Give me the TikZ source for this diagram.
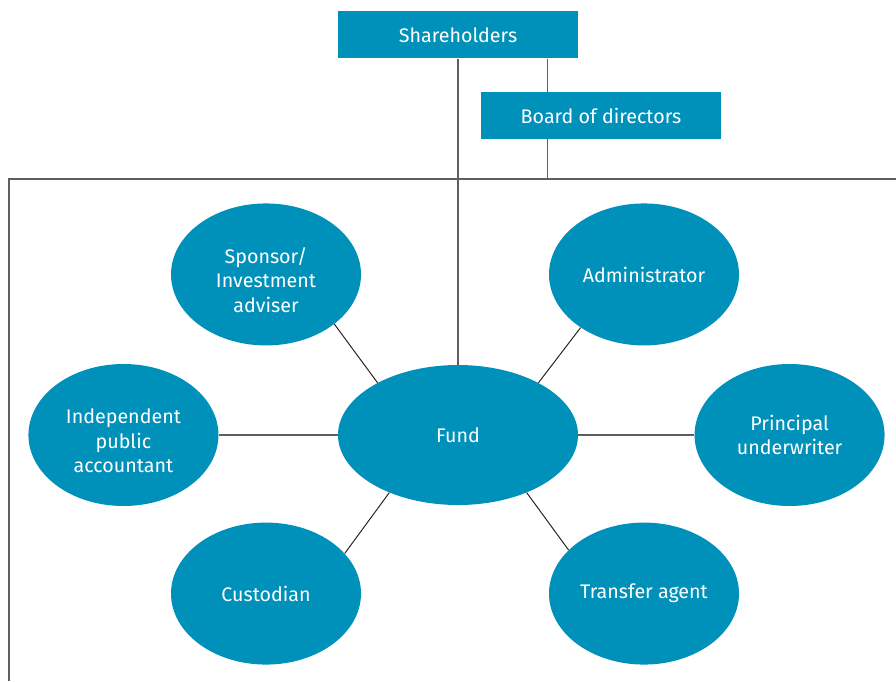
\documentclass[tikz,border=0pt]{standalone}
\usepackage{fontspec}
\setmainfont{Fira Sans}
\usepackage{tikz}
\usetikzlibrary{positioning, calc, shapes.geometric}
\definecolor{FundBlue}{RGB}{0, 145, 187}
\definecolor{LineGrey}{RGB}{95, 95, 95}
\definecolor{SpokeDark}{RGB}{35, 35, 35}

\begin{document}
\begin{tikzpicture}[
    font=\fontsize{14}{17.5}\selectfont,
    bubble/.style={ellipse, fill=FundBlue, text=white, align=center, inner sep=0pt, minimum width=4.75cm, minimum height=3.55cm},
    boxstyle/.style={rectangle, fill=FundBlue, text=white, align=center, inner sep=0pt, minimum width=6cm, minimum height=1.175cm},
    link/.style={draw=LineGrey, line width=1pt},
    spoke/.style={draw=SpokeDark, line width=0.7pt}
]
    \useasboundingbox (0,0) rectangle (22.4,-17.025);

    % Centre: the fund
    \node (fund) [bubble, minimum width=6cm, minimum height=3.5cm] at (11.45,-10.875) {Fund};

    % Governance on top
    \node (share) [boxstyle, above=7.65cm of fund] {Shareholders};
    \node (board) [boxstyle, below=0.825cm of share, xshift=3.575cm] {Board of directors};

    % Service providers around the fund
    \node (sponsor) [bubble, above=0.475cm of fund, xshift=-4.8cm] {\rule{0pt}{19pt}Sponsor/\\Investment\\adviser};
    \node (admin) [bubble, above=0.475cm of fund, xshift=4.65cm] {Administrator};
    \node (auditor) [bubble, left=2.975cm of fund] {\rule{0pt}{19pt}Independent\\public\\accountant};
    \node (underwriter) [bubble, right=2.9cm of fund] {Principal\\underwriter};
    \node (custodian) [bubble, below=0.425cm of fund, xshift=-4.8cm] {Custodian};
    \node (transfer) [bubble, below=0.425cm of fund, xshift=4.65cm] {Transfer agent};

    % Frame and taps
    \coordinate (frameTL) at (0.225,-4.475);
    \coordinate (frameTR) at (22.4,-4.475);
    \coordinate (frameBL) at (0.225,-17.025);
    \coordinate (tap) at ($(board.north west)+(1.675,0)$);

    % Connections
    \draw [link] (frameTR) -- (frameTL) -- (frameBL);
    \draw [link] (share) -- (fund);
    \draw [link] (tap |- share.south) -- (tap |- board.north);
    \draw [link] (tap |- board.south) -- (tap |- frameTL);

    \draw [link] (fund) -- (auditor);
    \draw [link] (fund) -- (underwriter);

    \draw [spoke] (fund.147) -- (sponsor.-36);
    \draw [spoke] (fund.33) -- (admin.220);
    \draw [spoke] (fund.220) -- (custodian.27);
    \draw [spoke] (fund.-40) -- (transfer.150);

\end{tikzpicture}
\end{document}
